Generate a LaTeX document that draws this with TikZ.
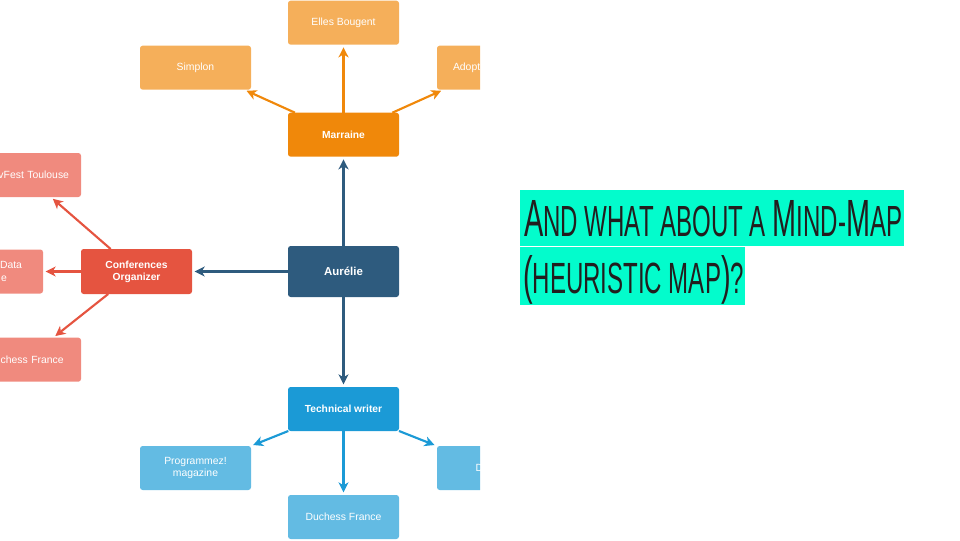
\documentclass[tikz,border=0pt]{standalone}
\usepackage{graphicx}
\usepackage{fontspec}
\setmainfont{Liberation Sans}
\newfontfamily\titlefont{Liberation Sans}
\usepackage{tikz}
\usetikzlibrary{arrows.meta,positioning}

\definecolor{aurblue}{RGB}{46,91,126}
\definecolor{marorange}{RGB}{240,136,10}
\definecolor{marlight}{RGB}{245,175,90}
\definecolor{confred}{RGB}{229,84,64}
\definecolor{conflight}{RGB}{240,138,126}
\definecolor{twblue}{RGB}{27,154,214}
\definecolor{twlight}{RGB}{99,187,227}
\definecolor{hilite}{RGB}{3,252,204}
\definecolor{titleink}{RGB}{34,30,30}

\begin{document}
\begin{tikzpicture}[x=0.75pt,y=-0.75pt,->,>={Stealth[length=7.5pt,width=7.5pt,inset=2.2pt]},shorten >=2pt,line width=1.6pt,
    box/.style={rectangle,rounded corners=2pt,minimum width=83.25pt,minimum height=33pt,inner sep=0pt,outer sep=0pt,text=white,align=center},
    main node/.style={box,font=\bfseries\fontsize{7.7}{9.2}\selectfont},
    leaf node/.style={box,font=\fontsize{7.8}{9.4}\selectfont},
    title node/.style={anchor=base west,inner sep=0pt,text=titleink,font=\titlefont}]
  \useasboundingbox (0,0) rectangle (960,540);

  \begin{scope}
    \clip (0,0) rectangle (480,540);
    \node[main node,fill=aurblue,minimum height=38.25pt,font=\bfseries\fontsize{8.6}{10}\selectfont] (aur) at (343.5,271.5) {Aurélie};

    \node[main node,fill=marorange] (mar) [above=67pt of aur] {Marraine};
    \node[leaf node,fill=marlight] (elles) [above=51pt of mar] {Elles Bougent};
    \node[leaf node,fill=marlight] (simplon) [above left=17.25pt and 27.75pt of mar] {Simplon};
    \node[leaf node,fill=marlight,text width=59.25pt,inner xsep=12pt,align=left] (adopt) [above right=17.25pt and 28.5pt of mar] {Adopt};

    \node[main node,fill=twblue] (tw) [below=67.5pt of aur] {Technical writer};
    \node[leaf node,fill=twlight] (duchess) [below=48pt of tw] {Duchess France};
    \node[leaf node,fill=twlight] (prog) [below left=11.25pt and 27.75pt of tw] {Programmez!\\magazine};
    \node[leaf node,fill=twlight,text width=25.25pt,inner xsep=29pt,align=left] (dzone) [below right=11.25pt and 28.5pt of tw] {D};

    \node[main node,fill=confred,minimum height=33.75pt] (conf) [left=72pt of aur] {Conferences\\Organizer};
    \node[leaf node,fill=conflight,text width=65.25pt,inner xsep=9pt,align=right] (devfest) [above left=39pt and 0pt of conf] {vFest Toulouse};
    \node[leaf node,fill=conflight,text width=51.75pt,inner xsep=15.75pt,align=right] (data) [left=28.5pt of conf] {Data\\e\hspace*{11.25pt}};
    \node[leaf node,fill=conflight,text width=57.25pt,inner xsep=13pt,align=right] (duchessb) [below left=32.75pt and 0pt of conf] {chess France};

    \path[aurblue] (aur) edge (mar) edge (tw) edge (conf);
    \path[marorange] (mar) edge (elles) edge (simplon) edge (adopt);
    \path[twblue] (tw) edge (duchess) edge (prog) edge (dzone);
    \path[confred] (conf) edge (devfest) edge (data) edge (duchessb);
  \end{scope}

  % title
  \fill[-,hilite] (520,190) rectangle (904,246.4);
  \fill[-,hilite] (520,247.4) rectangle (745,305);
  \node[title node] (line1) at (523,236) {\resizebox{283.5pt}{27pt}{\large{\Large A}ND WHAT ABOUT A {\Large M}IND-{\Large M}AP}};
  \node[title node] (line2) at (522,293) {\resizebox{165.75pt}{28.5pt}{\large{\Large(}HEURISTIC MAP{\Large)}?}};
\end{tikzpicture}
\end{document}
